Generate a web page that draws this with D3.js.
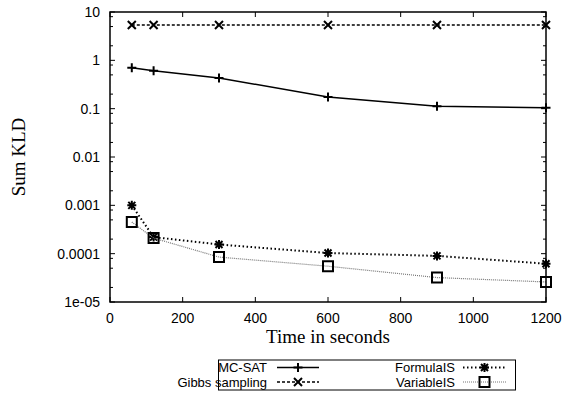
<!DOCTYPE html>
<html><head><meta charset="utf-8">
<script src="https://cdn.jsdelivr.net/npm/d3@7"></script>
<style>body{margin:0;background:#fff}svg{display:block}</style>
</head><body>
<svg id="c" width="578" height="394"></svg>
<script>
const times = [60, 120, 300, 600, 900, 1200];
const mcsat = [0.70, 0.61, 0.43, 0.175, 0.112, 0.105];
const gibbs = [5.4, 5.4, 5.4, 5.4, 5.4, 5.4];
const formulaIS = [0.001, 0.00022, 0.000155, 0.000103, 0.00009, 0.000062];
const variableIS = [0.00045, 0.00021, 0.000085, 0.000055, 0.000032, 0.000026];
const xTicks = [0, 200, 400, 600, 800, 1000, 1200];
const yTicks = [10, 1, 0.1, 0.01, 0.001, 0.0001, 0.00001];
const yTickLabels = ["10", "1", "0.1", "0.01", "0.001", "0.0001", "1e-05"];
const seriesNames = ["MC-SAT", "Gibbs sampling", "FormulaIS", "VariableIS"];

const svg = d3.select("#c");
const L = 110, R = 546, T = 12, B = 302;
const x = d3.scaleLinear().domain([0, 1200]).range([L, R]);
const y = d3.scaleLog().domain([1e-5, 10]).range([B, T]);

// minor ticks at 2,5,8 of each decade
const minor = [];
for (let e = -5; e < 1; e++) [2, 5, 8].forEach(m => minor.push(m * Math.pow(10, e)));

const g = svg.append("g");
const tk = g.append("g").attr("stroke", "#000").attr("stroke-width", 1);
xTicks.forEach(v => {
  tk.append("line").attr("x1", x(v)).attr("x2", x(v)).attr("y1", B).attr("y2", B - 5);
  tk.append("line").attr("x1", x(v)).attr("x2", x(v)).attr("y1", T).attr("y2", T + 5);
});
yTicks.forEach(v => {
  tk.append("line").attr("x1", L).attr("x2", L + 5).attr("y1", y(v)).attr("y2", y(v));
  tk.append("line").attr("x1", R).attr("x2", R - 5).attr("y1", y(v)).attr("y2", y(v));
});
minor.forEach(v => {
  tk.append("line").attr("x1", L).attr("x2", L + 3).attr("y1", y(v)).attr("y2", y(v));
  tk.append("line").attr("x1", R).attr("x2", R - 3).attr("y1", y(v)).attr("y2", y(v));
});

const lab = g.append("g").attr("font-family", "Liberation Sans, Arial, sans-serif").attr("font-size", 14).attr("fill", "#000");
xTicks.forEach(v => lab.append("text").attr("x", x(v)).attr("y", 323).attr("text-anchor", "middle").text(v));
yTicks.forEach((v, i) => lab.append("text").attr("x", 100).attr("y", y(v) + 5).attr("text-anchor", "end").text(yTickLabels[i]));

g.append("text").attr("x", (L + R) / 2).attr("y", 343).attr("text-anchor", "middle")
  .attr("font-family", "Liberation Serif, Times New Roman, serif").attr("font-size", 19).text("Time in seconds");
g.append("text").attr("transform", "translate(25,157) rotate(-90)").attr("text-anchor", "middle")
  .attr("font-family", "Liberation Serif, Times New Roman, serif").attr("font-size", 19).text("Sum KLD");

function marker(sel, type, cx, cy) {
  const s = 4.5;
  let d;
  if (type === "plus") d = `M${cx - s},${cy}H${cx + s}M${cx},${cy - s}V${cy + s}`;
  else if (type === "cross") { const k = 4; d = `M${cx - k},${cy - k}L${cx + k},${cy + k}M${cx - k},${cy + k}L${cx + k},${cy - k}`; }
  else if (type === "star") { const k = 3.5; d = `M${cx - 4.5},${cy}H${cx + 4.5}M${cx},${cy - 4.5}V${cy + 4.5}M${cx - k},${cy - k}L${cx + k},${cy + k}M${cx - k},${cy + k}L${cx + k},${cy - k}`; }
  else { const k = 5; d = `M${cx - k},${cy - k}H${cx + k}V${cy + k}H${cx - k}Z`; }
  sel.append("path").attr("d", d).attr("fill", "none").attr("stroke", "#000").attr("stroke-width", 2);
}

const series = [
  { vals: mcsat, type: "plus", stroke: "#000", w: 1.5, dash: null },
  { vals: gibbs, type: "cross", stroke: "#000", w: 1.5, dash: "3,2" },
  { vals: formulaIS, type: "star", stroke: "#000", w: 2, dash: "1.5,2.5" },
  { vals: variableIS, type: "square", stroke: "#777", w: 1.2, dash: "1,1" }
];
const line = d3.line().x((d, i) => x(times[i])).y(d => y(d));
const pg = g.append("g");
series.forEach(s => {
  const p = pg.append("path").datum(s.vals).attr("d", line).attr("fill", "none")
    .attr("stroke", s.stroke).attr("stroke-width", s.w);
  if (s.dash) p.attr("stroke-dasharray", s.dash);
  s.vals.forEach((v, i) => marker(pg, s.type, x(times[i]), y(v)));
});

g.append("rect").attr("x", L).attr("y", T).attr("width", R - L).attr("height", B - T)
  .attr("fill", "none").attr("stroke", "#000").attr("stroke-width", 1.5);

const lg = g.append("g");
lg.append("rect").attr("x", 218.5).attr("y", 360).attr("width", 297).attr("height", 30)
  .attr("fill", "none").attr("stroke", "#000").attr("stroke-width", 1);
const cols = [{ tx: 267, x1: 277, x2: 319 }, { tx: 455, x1: 463, x2: 506 }];
const rows = [367.5, 382];
series.forEach((s, i) => {
  const c = cols[Math.floor(i / 2)], r = rows[i % 2];
  lg.append("text").attr("x", c.tx).attr("y", r + 4.5).attr("text-anchor", "end")
    .attr("font-family", "Liberation Sans, Arial, sans-serif").attr("font-size", 13)
    .attr("textLength", null).text(seriesNames[i]);
  const p = lg.append("line").attr("x1", c.x1).attr("x2", c.x2).attr("y1", r).attr("y2", r)
    .attr("stroke", s.stroke).attr("stroke-width", s.w);
  if (s.dash) p.attr("stroke-dasharray", s.dash);
  marker(lg, s.type, (c.x1 + c.x2) / 2, r);
});
</script>
</body></html>
